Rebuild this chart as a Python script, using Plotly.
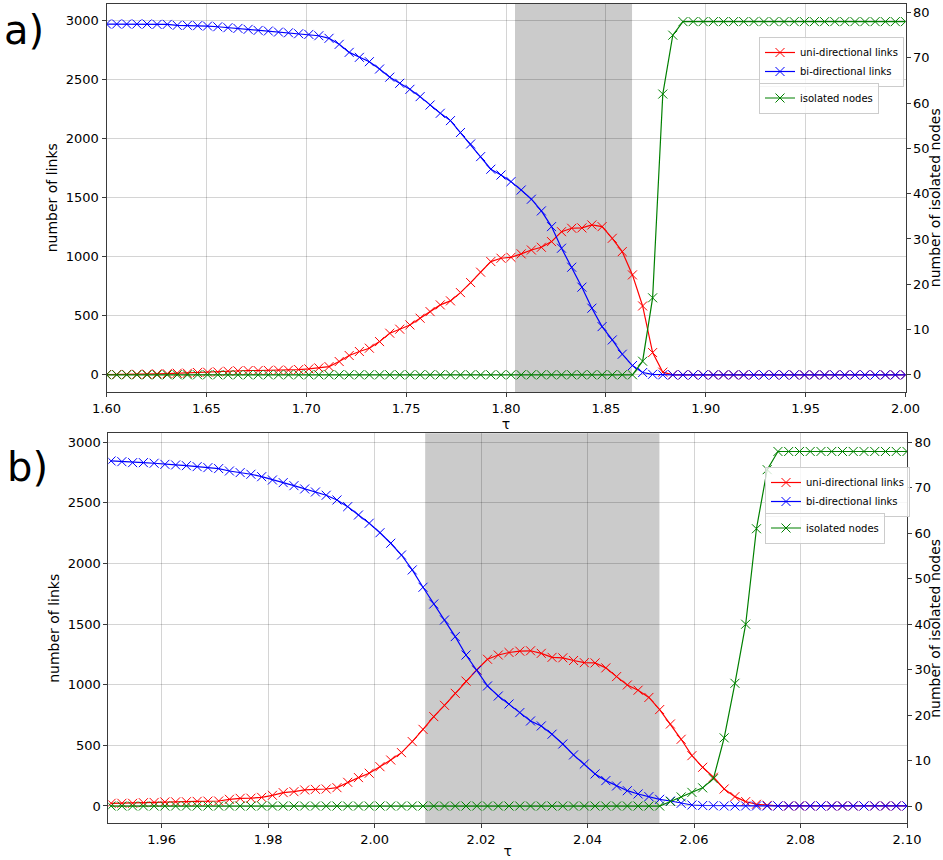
import plotly.graph_objects as go

# ---------------- data ----------------
TAU_A = [1.6000, 1.6051, 1.6101, 1.6152, 1.6203, 1.6253, 1.6304, 1.6354, 1.6405, 1.6456,
         1.6506, 1.6557, 1.6608, 1.6658, 1.6709, 1.6759, 1.6810, 1.6861, 1.6911, 1.6962,
         1.7013, 1.7063, 1.7114, 1.7165, 1.7215, 1.7266, 1.7316, 1.7367, 1.7418, 1.7468,
         1.7519, 1.7570, 1.7620, 1.7671, 1.7722, 1.7772, 1.7823, 1.7873, 1.7924, 1.7975,
         1.8025, 1.8076, 1.8127, 1.8177, 1.8228, 1.8278, 1.8329, 1.8380, 1.8430, 1.8481,
         1.8532, 1.8582, 1.8633, 1.8684, 1.8734, 1.8785, 1.8835, 1.8886, 1.8937, 1.8987,
         1.9038, 1.9089, 1.9139, 1.9190, 1.9241, 1.9291, 1.9342, 1.9392, 1.9443, 1.9494,
         1.9544, 1.9595, 1.9646, 1.9696, 1.9747, 1.9797, 1.9848, 1.9899, 1.9949, 2.0000]

UNI_A = [3, 3, 4, 5, 6, 8, 10, 14, 14, 20,
         23, 25, 31, 34, 37, 37, 38, 40, 40, 45,
         51, 59, 70, 113, 164, 198, 226, 282, 353, 387,
         423, 480, 536, 593, 627, 697, 782, 870, 960, 988,
         996, 1025, 1058, 1081, 1129, 1213, 1242, 1245, 1270, 1256,
         1157, 1044, 847, 584, 189, 23, 0, 0, 0, 0,
         0, 0, 0, 0, 0, 0, 0, 0, 0, 0,
         0, 0, 0, 0, 0, 0, 0, 0, 0, 0]

BI_A = [2972, 2972, 2972, 2972, 2972, 2969, 2969, 2961, 2961, 2958,
        2955, 2949, 2941, 2935, 2927, 2918, 2913, 2904, 2898, 2890,
        2884, 2873, 2851, 2800, 2732, 2690, 2653, 2591, 2522, 2470,
        2419, 2357, 2286, 2216, 2154, 2053, 1956, 1849, 1742, 1693,
        1637, 1566, 1488, 1389, 1256, 1073, 912, 743, 565, 409,
        296, 175, 79, 20, 5, 0, 0, 0, 0, 0,
        0, 0, 0, 0, 0, 0, 0, 0, 0, 0,
        0, 0, 0, 0, 0, 0, 0, 0, 0, 0]

ISO_A = [0, 0, 0, 0, 0, 0, 0, 0, 0, 0,
         0, 0, 0, 0, 0, 0, 0, 0, 0, 0,
         0, 0, 0, 0, 0, 0, 0, 0, 0, 0,
         0, 0, 0, 0, 0, 0, 0, 0, 0, 0,
         0, 0, 0, 0, 0, 0, 0, 0, 0, 0,
         0, 0, 0, 3, 17, 62, 75, 78, 78, 78,
         78, 78, 78, 78, 78, 78, 78, 78, 78, 78,
         78, 78, 78, 78, 78, 78, 78, 78, 78, 78]

TAU_B = [1.95051, 1.95253, 1.95455, 1.95657, 1.95859, 1.96061, 1.96263, 1.96465, 1.96667, 1.96869,
         1.97071, 1.97273, 1.97475, 1.97677, 1.97879, 1.98081, 1.98283, 1.98485, 1.98687, 1.98889,
         1.99091, 1.99293, 1.99495, 1.99697, 1.99899, 2.00101, 2.00303, 2.00505, 2.00707, 2.00909,
         2.01111, 2.01313, 2.01515, 2.01717, 2.01919, 2.02121, 2.02323, 2.02525, 2.02727, 2.02929,
         2.03131, 2.03333, 2.03535, 2.03737, 2.03939, 2.04141, 2.04343, 2.04545, 2.04747, 2.04949,
         2.05152, 2.05354, 2.05556, 2.05758, 2.05960, 2.06162, 2.06364, 2.06566, 2.06768, 2.06970,
         2.07172, 2.07374, 2.07576, 2.07778, 2.07980, 2.08182, 2.08384, 2.08586, 2.08788, 2.08990,
         2.09192, 2.09394, 2.09596, 2.09798, 2.10000]

UNI_B = [22, 22, 22, 27, 29, 33, 34, 35, 38, 40,
         41, 55, 63, 64, 71, 88, 110, 118, 132, 137,
         140, 151, 195, 234, 270, 324, 379, 440, 531, 632,
         737, 830, 929, 1030, 1122, 1210, 1245, 1266, 1277, 1280,
         1259, 1226, 1222, 1200, 1182, 1180, 1139, 1067, 998, 955,
         895, 795, 676, 550, 415, 319, 237, 140, 77, 36,
         14, 5, 0, 0, 0, 0, 0, 0, 0, 0,
         0, 0, 0, 0, 0]

BI_B = [2846, 2840, 2832, 2832, 2827, 2818, 2813, 2807, 2799, 2791,
        2783, 2763, 2750, 2736, 2716, 2689, 2667, 2642, 2615, 2590,
        2563, 2524, 2469, 2400, 2332, 2254, 2167, 2070, 1947, 1804,
        1666, 1534, 1397, 1245, 1119, 990, 907, 841, 770, 701,
        660, 592, 511, 421, 346, 264, 209, 165, 126, 99,
        77, 55, 41, 22, 8, 4, 2, 0, 0, 0,
        0, 0, 0, 0, 0, 0, 0, 0, 0, 0,
        0, 0, 0, 0, 0]

ISO_B = [0, 0, 0, 0, 0, 0, 0, 0, 0, 0,
         0, 0, 0, 0, 0, 0, 0, 0, 0, 0,
         0, 0, 0, 0, 0, 0, 0, 0, 0, 0,
         0, 0, 0, 0, 0, 0, 0, 0, 0, 0,
         0, 0, 0, 0, 0, 0, 0, 0, 0, 0,
         0, 0, 1, 2, 3, 4, 6, 15, 27, 40,
         61, 74, 78, 78, 78, 78, 78, 78, 78, 78,
         78, 78, 78, 78, 78]

SHADE_A = [1.8045, 1.8631]
SHADE_B = [2.0095, 2.0535]

XTICKS_A = [1.60, 1.65, 1.70, 1.75, 1.80, 1.85, 1.90, 1.95, 2.00]
XTICKS_B = [1.96, 1.98, 2.00, 2.02, 2.04, 2.06, 2.08, 2.10]
YTICKS_L = [0, 500, 1000, 1500, 2000, 2500, 3000]
YTICKS_R = [0, 10, 20, 30, 40, 50, 60, 70, 80]

LABEL_UNI = "uni-directional links"
LABEL_BI = "bi-directional links"
LABEL_ISO = "isolated nodes"

# ---------------- figure ----------------
W, H = 943, 860
FONT = "DejaVu Sans"
RED, BLUE, GREEN = "#ff0000", "#0000ff", "#008000"
SPINE = "#3a3a3a"
GRID = "rgba(0,0,0,0.17)"


def fx(p):
    return p / W


def fy(p):
    return 1 - p / H


fig = go.Figure()


def add_series(x, y, name, color, xa, ya, leg):
    fig.add_trace(go.Scatter(
        x=x, y=y, name=name, mode="lines+markers",
        line=dict(color=color, width=1.2),
        marker=dict(symbol="x-thin", size=9, color=color,
                    line=dict(color=color, width=1)),
        xaxis=xa, yaxis=ya, legend=leg, showlegend=True,
    ))


add_series(TAU_A, UNI_A, LABEL_UNI, RED, "x", "y", "legend")
add_series(TAU_A, BI_A, LABEL_BI, BLUE, "x", "y", "legend")
add_series(TAU_A, ISO_A, LABEL_ISO, GREEN, "x", "y2", "legend2")
add_series(TAU_B, UNI_B, LABEL_UNI, RED, "x2", "y3", "legend3")
add_series(TAU_B, BI_B, LABEL_BI, BLUE, "x2", "y3", "legend3")
add_series(TAU_B, ISO_B, LABEL_ISO, GREEN, "x2", "y4", "legend4")

tickfont = dict(family=FONT, size=13, color="black")
titlefont = dict(family=FONT, size=14, color="black")

common_x = dict(showline=True, linecolor=SPINE, linewidth=1, mirror=True,
                ticks="outside", ticklen=4, tickwidth=1, tickcolor=SPINE,
                showgrid=True, gridcolor=GRID, gridwidth=1, zeroline=False,
                tickfont=tickfont, tickformat=".2f", automargin=False)
common_yl = dict(showline=True, linecolor=SPINE, linewidth=1,
                 ticks="outside", ticklen=4, tickwidth=1, tickcolor=SPINE,
                 showgrid=True, gridcolor=GRID, gridwidth=1, zeroline=False,
                 tickfont=tickfont, tickvals=YTICKS_L, automargin=False)
common_yr = dict(showline=True, linecolor=SPINE, linewidth=1,
                 ticks="outside", ticklen=4, tickwidth=1, tickcolor=SPINE,
                 showgrid=False, zeroline=False, side="right",
                 tickfont=tickfont, tickvals=YTICKS_R, automargin=False)

dom_xa = [fx(106.5), fx(905.5)]
dom_ya = [fy(392), fy(3.5)]
dom_xb = [fx(108.4), fx(907)]
dom_yb = [fy(823.3), fy(433.3)]

fig.update_layout(
    width=W, height=H,
    margin=dict(l=0, r=0, t=0, b=0),
    paper_bgcolor="white", plot_bgcolor="white",
    font=dict(family=FONT, color="black"),
    xaxis=dict(common_x, domain=dom_xa, anchor="y", range=[1.6, 2.0],
               tickvals=XTICKS_A,
               title=dict(text="τ", font=titlefont, standoff=0)),
    yaxis=dict(common_yl, domain=dom_ya, anchor="x", range=[-145, 3146],
               title=dict(text="number of links", font=titlefont, standoff=4)),
    yaxis2=dict(common_yr, overlaying="y", anchor="x", range=[-3.8, 82.0],
                title=dict(text="number of isolated nodes", font=titlefont, standoff=4)),
    xaxis2=dict(common_x, domain=dom_xb, anchor="y3", range=[1.95, 2.10],
                tickvals=XTICKS_B,
                title=dict(text="τ", font=titlefont, standoff=0)),
    yaxis3=dict(common_yl, domain=dom_yb, anchor="x2", range=[-143, 3074],
                title=dict(text="number of links", font=titlefont, standoff=4)),
    yaxis4=dict(common_yr, overlaying="y3", anchor="x2", range=[-3.8, 82.0],
                title=dict(text="number of isolated nodes", font=titlefont, standoff=4)),
)

legend_style = dict(xanchor="left", yanchor="middle", bgcolor="rgba(255,255,255,0.8)",
                    bordercolor="#cccccc", borderwidth=1,
                    font=dict(family=FONT, size=10, color="black"),
                    itemwidth=30, tracegroupgap=0, xref="paper", yref="paper")
fig.update_layout(
    legend=dict(legend_style, x=fx(759), y=fy(62)),
    legend2=dict(legend_style, x=fx(759), y=fy(98)),
    legend3=dict(legend_style, x=fx(765), y=fy(492)),
    legend4=dict(legend_style, x=fx(765), y=fy(528)),
)

# shaded windows
for (x0, x1), xr, yr in [(SHADE_A, "x", "y domain"), (SHADE_B, "x2", "y3 domain")]:
    fig.add_shape(type="rect", xref=xr, yref=yr, x0=x0, x1=x1, y0=0, y1=1,
                  fillcolor="#cbcbcb", line=dict(width=0), layer="below")

# panel labels
fig.add_annotation(text="a)", x=fx(24), y=fy(30), xref="paper", yref="paper",
                   showarrow=False, xanchor="center", yanchor="middle",
                   font=dict(family=FONT, size=40, color="black"))
fig.add_annotation(text="b)", x=fx(27), y=fy(467), xref="paper", yref="paper",
                   showarrow=False, xanchor="center", yanchor="middle",
                   font=dict(family=FONT, size=40, color="black"))

fig.write_html("out.html")
